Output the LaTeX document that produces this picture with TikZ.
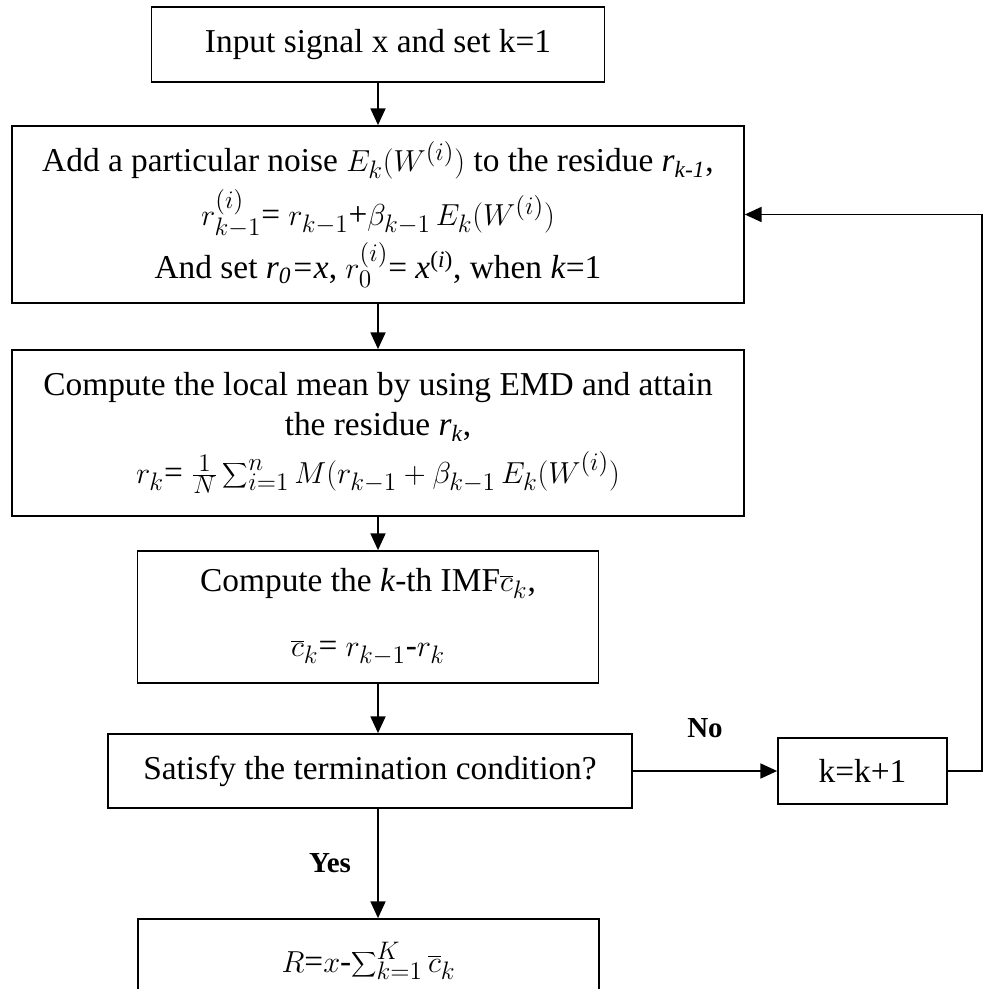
\documentclass[tikz,border=0pt]{standalone}
\usepackage{fontspec}
\setmainfont{Liberation Serif}
\usetikzlibrary{arrows.meta}
\tikzset{
  stepbox/.style={draw, line width=1pt, align=center, inner sep=2pt},
  flow/.style={draw, line width=1pt, -{Triangle[length=9.5pt,width=8.5pt]}},
  tag/.style={font=\fontsize{16.5}{20}\selectfont\bfseries}
}
\newcommand{\bigsum}{\displaystyle\sum\nolimits}
\begin{document}
\begin{tikzpicture}[x=0.02cm, y=-0.02cm, font=\fontsize{19}{23}\selectfont]
\useasboundingbox (0,0) rectangle (986,989);
\node[stepbox, minimum width=9.06cm, minimum height=1.5cm] (input) at (378, 44.5) {Input signal x and set k=1};
\node[stepbox, minimum width=14.64cm, minimum height=3.54cm] (noise) at (378, 214.5) {Add a particular noise $E_k(W^{(i)})$ to the residue \textit{r\textsubscript{k-1}},\\[5pt]
  $r^{(i)}_{k-1}$= $r_{k-1}$+$\beta_{k-1}\,E_k(W^{(i)})$\\[2pt]
  And set \textit{r\textsubscript{0}=x}, $r^{(i)}_0$= \textit{x}\textsuperscript{(\textit{i})}, when \textit{k}=1};
\node[stepbox, minimum width=14.64cm, minimum height=3.32cm] (mean) at (378, 433) {Compute the local mean by using EMD and attain\\
  the residue \textit{r\textsubscript{k}},\\[4pt]
  $r_k$= $\frac{1}{N}\bigsum_{i=1}^{n}M(r_{k-1}+\beta_{k-1}\,E_k(W^{(i)})$};
\node[stepbox, minimum width=9.22cm, minimum height=2.64cm] (imf) at (368, 617) {Compute the \textit{k}-th IMF$\overline{c}_k$,\\[14pt]
  $\overline{c}_k$= $r_{k-1}$-$r_k$};
\node[stepbox, minimum width=10.48cm, minimum height=1.48cm] (check) at (370, 771) {Satisfy the termination condition?};
\node[stepbox, minimum width=3.38cm, minimum height=1.32cm] (incr) at (862.5, 771) {k=k+1};
\node[stepbox, minimum width=9.22cm, minimum height=1.68cm] (result) at (368.5, 961) {$R$=$x$-$\bigsum_{k=1}^{K}\overline{c}_k$};
\coordinate (turn) at (982, 771);
\node[tag] (lblno) at (705, 728) {No};
\node[tag] (lblyes) at (330, 863) {Yes};

\draw[flow] (input) -- (noise);
\draw[flow] (noise) -- (mean);
\draw[flow] (mean.south) -- (mean.south |- imf.north);
\draw[flow] (mean.south |- imf.south) -- (mean.south |- check.north);
\draw[flow] (mean.south |- check.south) -- (mean.south |- result.north);
\draw[flow] (check) -- (incr);
\draw[flow] (incr) -- (turn) |- (noise);
\end{tikzpicture}
\end{document}
